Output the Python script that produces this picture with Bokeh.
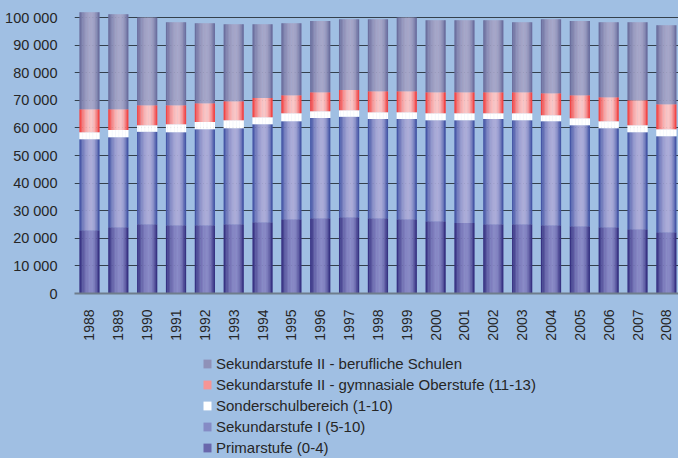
from bokeh.plotting import figure
from bokeh.models import ColumnDataSource, Range1d, FixedTicker, Legend, LegendItem
from bokeh.layouts import column
from bokeh.transform import dodge
from bokeh.embed import file_html
from bokeh.resources import INLINE
import math

years = ["1988", "1989", "1990", "1991", "1992", "1993", "1994", "1995", "1996", "1997", "1998",
         "1999", "2000", "2001", "2002", "2003", "2004", "2005", "2006", "2007", "2008"]
primar = [22900, 24000, 25100, 24700, 24700, 25100, 25800, 26900, 27300, 27600, 27300,
          26900, 26200, 25500, 25100, 25100, 24700, 24400, 24000, 23300, 22200]
sek1 = [33000, 32600, 33500, 33700, 34800, 34800, 35500, 35500, 36300, 36400, 35900,
        36300, 36600, 37300, 38100, 37700, 37700, 36600, 35900, 35100, 34800]
sonder = [2500, 2600, 2400, 2900, 2600, 2900, 2600, 2900, 2400, 2400, 2500,
          2500, 2500, 2500, 2100, 2500, 2200, 2500, 2500, 2600, 2500]
gym = [8400, 7600, 7200, 6900, 6800, 6900, 6900, 6500, 6900, 7300, 7600,
       7600, 7600, 7600, 7600, 7600, 8000, 8300, 8700, 9000, 9100]
beruf = [35100, 34400, 31800, 30100, 29000, 27900, 26800, 26100, 25800, 25700, 26100,
         26700, 26100, 26100, 26100, 25400, 26800, 26900, 27200, 28300, 28600]

series_keys = ["primar", "sek1", "sonder", "gym", "beruf"]
series_labels = ["Primarstufe (0-4)", "Sekundarstufe I (5-10)", "Sonderschulbereich (1-10)",
                 "Sekundarstufe II - gymnasiale Oberstufe (11-13)",
                 "Sekundarstufe II - berufliche Schulen"]
ytick_values = [0, 10000, 20000, 30000, 40000, 50000, 60000, 70000, 80000, 90000, 100000]
ytick_labels = ["0", "10 000", "20 000", "30 000", "40 000", "50 000", "60 000",
                "70 000", "80 000", "90 000", "100 000"]

# edge / highlight colours per series (for cylinder-like shading)
edge_cols = [(40, 34, 118), (50, 70, 156), (255, 255, 255), (240, 45, 45), (96, 100, 150)]
light_cols = [(136, 136, 197), (172, 172, 216), (255, 255, 255), (250, 198, 198), (166, 166, 200)]

BG = "#a0bfe3"
TXT = "#262626"
FONT = "Liberation Sans"
W = 678
H_TOP = 353

xs = list(range(len(years)))
src = ColumnDataSource(dict(x=xs, primar=primar, sek1=sek1, sonder=sonder, gym=gym, beruf=beruf))

p = figure(width=W, height=H_TOP, output_backend="svg", toolbar_location=None,
           x_range=Range1d(-0.52, 20.42), y_range=Range1d(0, 106160),
           min_border_left=74, min_border_right=0, min_border_top=0, min_border_bottom=60)
p.background_fill_color = BG
p.border_fill_color = BG
p.outline_line_color = None

p.xgrid.grid_line_color = None
p.ygrid.grid_line_color = "#34404c"
p.ygrid.grid_line_width = 1
p.ygrid.ticker = FixedTicker(ticks=ytick_values)

BW = 0.69
N = 14


def lum(t):
    pk = 0.6
    if t < pk:
        return 1 - ((pk - t) / pk) ** 2 * 0.95
    return 1 - ((t - pk) / (1 - pk)) ** 2


def hexc(c):
    return "#%02x%02x%02x" % tuple(int(round(v)) for v in c)


strip_w = BW / N
lsum = 0.0
for k in range(N):
    t = (k + 0.5) / N
    l = lum(t)
    lsum += l
    cols = [hexc([e + (h - e) * l for e, h in zip(ec, lc)]) for ec, lc in zip(edge_cols, light_cols)]
    off = -BW / 2 + strip_w * (k + 0.5)
    p.vbar_stack(series_keys, x=dodge("x", off, range=p.x_range), width=strip_w * 1.25,
                 color=cols, line_width=0, line_alpha=0, source=src)
lavg = lsum / N
avg_cols = [hexc([e + (h - e) * lavg for e, h in zip(ec, lc)]) for ec, lc in zip(edge_cols, light_cols)]

# axes
p.yaxis.ticker = FixedTicker(ticks=ytick_values)
p.yaxis.major_label_overrides = {v: s for v, s in zip(ytick_values, ytick_labels)}
p.yaxis.axis_line_color = None
p.yaxis.major_tick_line_color = None
p.yaxis.minor_tick_line_color = None
p.yaxis.major_label_standoff = 11
p.yaxis.major_label_text_font = FONT
p.yaxis.major_label_text_font_size = "14.5px"
p.yaxis.major_label_text_color = TXT

p.xaxis.ticker = FixedTicker(ticks=xs)
p.xaxis.major_label_overrides = {i: y for i, y in zip(xs, years)}
p.xaxis.major_label_orientation = math.pi / 2
p.xaxis.axis_line_color = "#6e7d8c"
p.xaxis.axis_line_width = 2
p.xaxis.major_tick_line_color = None
p.xaxis.minor_tick_line_color = None
p.xaxis.major_label_standoff = 10
p.xaxis.major_label_text_font = FONT
p.xaxis.major_label_text_font_size = "14px"
p.xaxis.major_label_text_color = TXT

# legend panel
q = figure(width=W, height=458 - H_TOP, output_backend="svg", toolbar_location=None,
           x_axis_type=None, y_axis_type=None, x_range=Range1d(0, 1), y_range=Range1d(0, 1),
           min_border_left=74, min_border_right=0, min_border_top=0, min_border_bottom=0)
q.background_fill_alpha = 0
q.border_fill_alpha = 0
q.outline_line_color = None
q.grid.grid_line_color = None

items = []
for key, lab, col in zip(series_keys, series_labels, avg_cols):
    r = q.vbar(x=[-50], top=[-5], bottom=[-6], width=0.5, fill_color=col, line_color=None)
    items.append(LegendItem(label=lab, renderers=[r]))
items = items[::-1]
legend = Legend(items=items, location=(128, 0), orientation="vertical",
                background_fill_alpha=0, border_line_alpha=0,
                glyph_width=10, glyph_height=11, label_height=21, spacing=0,
                padding=0, margin=0, label_standoff=4,
                label_text_font=FONT, label_text_font_size="15px", label_text_color=TXT)
q.add_layout(legend)

layout = column(p, q, spacing=0, styles={"background-color": BG})
open("out.html", "w").write(file_html(layout, INLINE))
